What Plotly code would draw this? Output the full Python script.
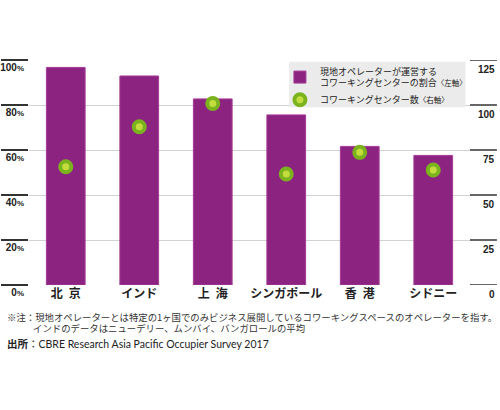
import plotly.graph_objects as go

categories = ["北\u2002京", "インド", "上\u2002海", "シンガポール", "香\u2002港", "シドニー"]
share_pct = [96.7, 92.9, 82.7, 75.6, 61.6, 57.6]
center_count = [65.7, 87.9, 100.9, 61.7, 73.7, 63.9]

left_ticks = [0, 20, 40, 60, 80, 100]
left_ticktext = [f"{v}<span style='font-size:8px'>%</span>" for v in left_ticks]
right_ticks = [0, 25, 50, 75, 100, 125]

bar_name = "現地オペレーターが運営する<br>コワーキングセンターの割合<span style='font-size:7.5px'>〈左軸〉</span>"
dot_name = "コワーキングセンター数<span style='font-size:7.5px'>〈右軸〉</span>"

FONT = "Noto Sans CJK JP, Noto Sans, sans-serif"

fig = go.Figure()
fig.add_trace(go.Bar(
    x=categories, y=share_pct, name=bar_name,
    marker=dict(color="#8C2381", line=dict(color="#A63C99", width=1)),
    yaxis="y",
))
fig.add_trace(go.Scatter(
    x=categories, y=center_count, name=dot_name, mode="markers",
    marker=dict(size=11, color="#C4DD3E", line=dict(color="#7BB31F", width=4)),
    yaxis="y2",
))

annotations = []
for v in right_ticks:
    annotations.append(dict(
        x=1.061, xref="paper", y=v, yref="y2", text=f"<b>{v}</b>",
        showarrow=False, xanchor="right", yanchor="top", yshift=-2,
        font=dict(family="Liberation Sans, Arial, sans-serif", size=10, color="#222"),
    ))

note_font = dict(family=FONT, size=9.4, color="#333")
annotations += [
    dict(x=-0.054, xref="paper", y=-0.142, yref="paper", xanchor="left", yanchor="middle",
         showarrow=False, font=note_font,
         text="※注：現地オペレーターとは特定の1ヶ国でのみビジネス展開しているコワーキングスペースのオペレーターを指す。"),
    dict(x=0.005, xref="paper", y=-0.193, yref="paper", xanchor="left", yanchor="middle",
         showarrow=False, font=note_font,
         text="インドのデータはニューデリー、ムンバイ、バンガロールの平均"),
    dict(x=-0.054, xref="paper", y=-0.263, yref="paper", xanchor="left", yanchor="middle",
         showarrow=False, font=dict(family="Lato, " + FONT, size=10.5, color="#222"),
         text="<b>出所</b>：CBRE Research Asia Pacific Occupier Survey 2017"),
]

shapes = [
    # legend background panel
    dict(type="rect", xref="paper", yref="paper", x0=0.590, x1=0.990, y0=0.79, y1=0.992,
         fillcolor="#EBEBEB", line=dict(width=0), layer="above"),
]
for v in right_ticks:
    shapes.append(dict(type="line", xref="paper", x0=1.0, x1=1.061, yref="y2", y0=v, y1=v,
                       line=dict(color="#333", width=1.5)))

fig.update_layout(
    width=500, height=410,
    margin=dict(l=29, r=30, t=60, b=125, autoexpand=False),
    paper_bgcolor="white", plot_bgcolor="white",
    bargap=0.473,
    font=dict(family=FONT, color="#222"),
    xaxis=dict(
        range=[-0.5, 5.5], showgrid=False, showline=False, zeroline=False, ticks="",
        tickfont=dict(family=FONT, size=12, color="#222"), tickprefix="<b>", ticksuffix="</b>",
    ),
    yaxis=dict(
        range=[0, 100], tickvals=left_ticks, ticktext=left_ticktext,
        showgrid=True, gridcolor="#D2D2D2", gridwidth=1, zeroline=False, showline=False,
        ticks="outside", ticklen=27, tickcolor="#333", tickwidth=1.5,
        ticklabelstandoff=-25, ticklabelshift=7,
        tickfont=dict(family="Liberation Sans, Arial, sans-serif", size=10, color="#222", weight="bold"),
    ),
    yaxis2=dict(
        range=[0, 125], overlaying="y", side="right", showgrid=False, zeroline=False,
        showticklabels=False, tickvals=right_ticks, ticks="",
    ),
    legend=dict(
        x=0.569, y=1.005, xanchor="left", yanchor="top",
        bgcolor="rgba(0,0,0,0)", borderwidth=0,
        font=dict(family=FONT, size=9.0, color="#222"),
        itemwidth=30, tracegroupgap=0,
    ),
    showlegend=True,
    annotations=annotations,
    shapes=shapes,
)

fig.write_html("out.html", config={"displayModeBar": False},
               post_script="document.body.style.margin='0';")
